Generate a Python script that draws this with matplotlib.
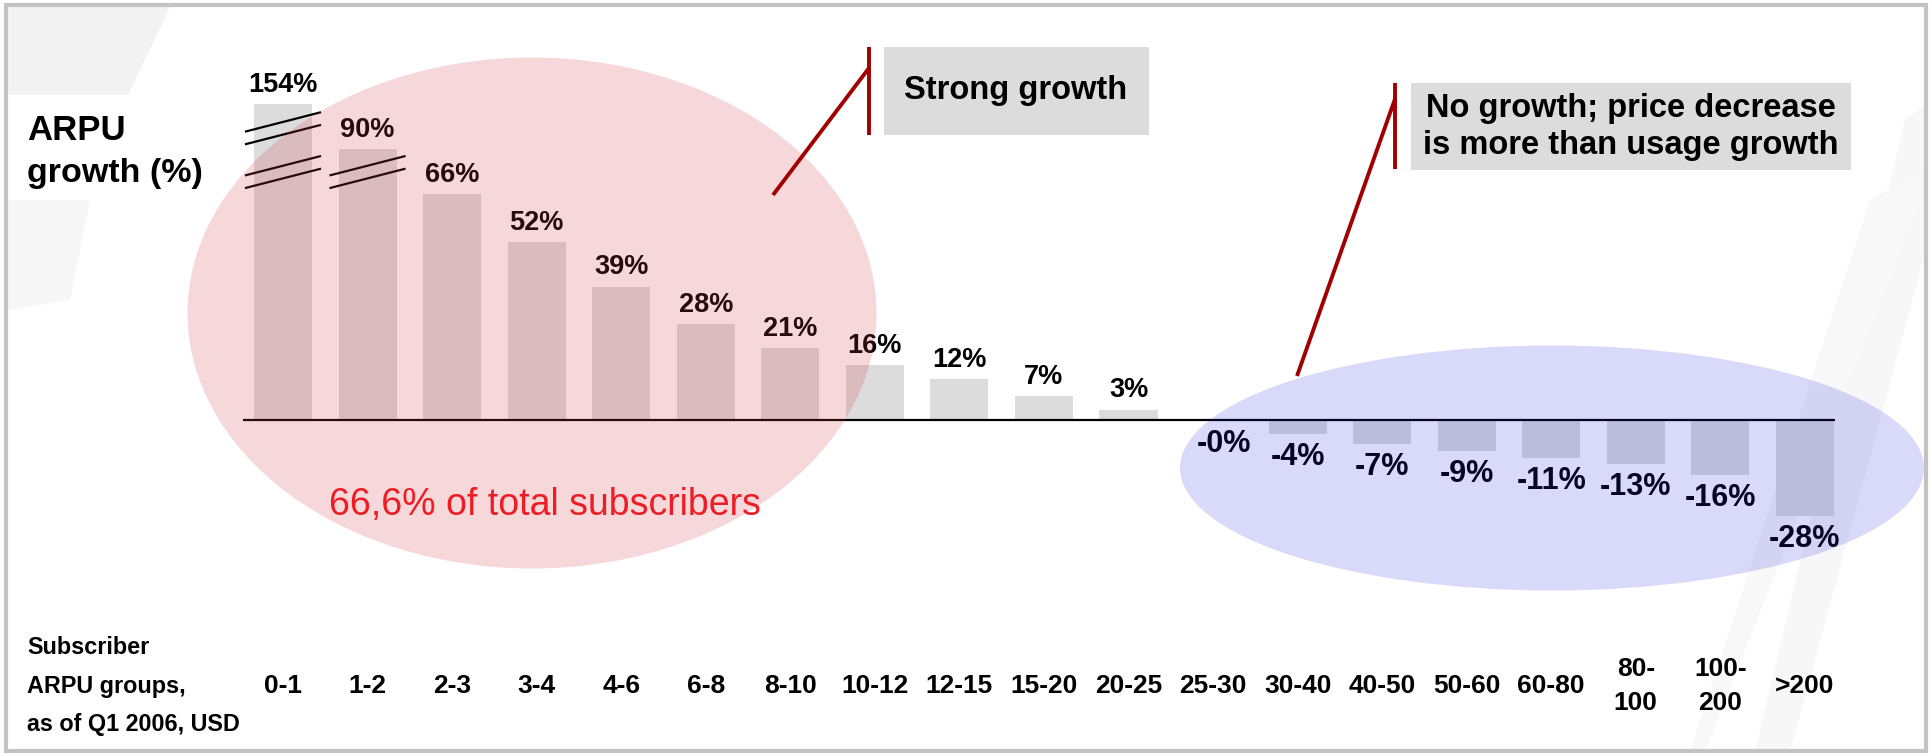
import matplotlib
matplotlib.use("Agg")
import matplotlib.pyplot as plt
from matplotlib.patches import Ellipse, Rectangle, Polygon
import matplotlib.transforms as mtransforms

plt.rcParams['font.family'] = ['Liberation Sans', 'DejaVu Sans']

# ---------------- data ----------------
categories = ['0-1', '1-2', '2-3', '3-4', '4-6', '6-8', '8-10', '10-12', '12-15',
              '15-20', '20-25', '25-30', '30-40', '40-50', '50-60', '60-80',
              '80-\n100', '100-\n200', '>200']
growth = [154, 90, 66, 52, 39, 28, 21, 16, 12, 7, 3, -0.2,
          -4, -7, -9, -11, -13, -16, -28]
# axis-break marks (which bars are broken and how many slash pairs)
break_counts = [2, 1]

# ---------------- layout constants ----------------
W, H = 1931, 756
X0_PX, STEP_PX, ZERO_PX, PX_PER_PCT = 283, 84.55, 420, 3.42
XL, XR, YLO, YHI = -0.5, 18.5, -60, 110
BREAK_FROM = 66


def shown(v):
    """Height drawn for a bar (values above the break are compressed)."""
    return v if v <= BREAK_FROM else BREAK_FROM + 2.42 * (v - BREAK_FROM) ** 0.533


fig = plt.figure(figsize=(W / 100, H / 100), dpi=100)

# background axes (pixel coordinates)
bg = fig.add_axes([0, 0, 1, 1], zorder=0)
bg.set_xlim(0, W)
bg.set_ylim(H, 0)
bg.axis('off')
bg.add_patch(Polygon([(8, 7), (170, 7), (128, 95), (8, 95)], closed=True,
                     color='#f2f2f2', lw=0))
bg.add_patch(Polygon([(8, 200), (90, 200), (70, 300), (8, 310)], closed=True,
                     color='#f7f7f7', lw=0))
bg.add_patch(Polygon([(1905, 120), (1926, 105), (1926, 250), (1790, 752), (1755, 752)],
                     closed=True, color='#f7f7f7', lw=0))
bg.add_patch(Polygon([(1870, 200), (1926, 170), (1926, 190), (1705, 752), (1690, 752)],
                     closed=True, color='#f8f8f8', lw=0))

# main data axes
left = (X0_PX + XL * STEP_PX) / W
width = (XR - XL) * STEP_PX / W
bottom = (H - (ZERO_PX - YLO * PX_PER_PCT)) / H
height = (YHI - YLO) * PX_PER_PCT / H
ax = fig.add_axes([left, bottom, width, height], zorder=1)
ax.patch.set_alpha(0)
ax.set_xlim(XL, XR)
ax.set_ylim(YLO, YHI)
ax.axis('off')

xs = list(range(len(categories)))
heights = [shown(v) for v in growth]
ax.bar(xs, heights, width=0.686, color='#dcdcdc', zorder=2)

for x, v, h in zip(xs, growth, heights):
    lab = f"{v:.0f}%"
    if v >= 0:
        ax.annotate(lab, (x, h), xytext=(0, 14), textcoords='offset points',
                    ha='center', va='center', fontsize=19.5, fontweight='bold',
                    color='black', zorder=4)
    else:
        dx = 8 if abs(v) < 0.5 else 0
        ax.annotate(lab, (x, h), xytext=(dx, -16.5), textcoords='offset points',
                    ha='center', va='center', fontsize=22, fontweight='bold',
                    color='black', zorder=4)

# break slashes
pair_centres = [72.5, 85.3]
for bi, n in enumerate(break_counts):
    for yc in pair_centres[:n]:
        for off in (1.85, -1.85):
            ax.plot([bi - 0.45, bi + 0.45], [yc + off - 2.85, yc + off + 2.85],
                    color='black', lw=1.6, zorder=5, solid_capstyle='butt')

# zero line
ax.hlines(0, -0.47, 18.36, color='black', lw=1.6, zorder=3)

# category labels
tr = mtransforms.blended_transform_factory(ax.transData, fig.transFigure)
for x, c in zip(xs, categories):
    ax.text(x, 1 - 686 / H, c, transform=tr, ha='center', va='center',
            fontsize=19, fontweight='bold', linespacing=1.5)

# overlay axes (pixel coordinates)
ov = fig.add_axes([0, 0, 1, 1], zorder=2)
ov.patch.set_alpha(0)
ov.set_xlim(0, W)
ov.set_ylim(H, 0)
ov.axis('off')

ov.add_patch(Ellipse((532, 313), 689, 511, facecolor=(210 / 255, 60 / 255, 70 / 255),
                     alpha=0.2, lw=0, zorder=1))
ov.add_patch(Ellipse((1552, 468), 744, 245, facecolor=(32 / 255, 32 / 255, 226 / 255),
                     alpha=0.17, lw=0, zorder=1))

# left titles
ov.text(27, 140, 'ARPU', fontsize=25, fontweight='bold', ha='left', va='baseline')
ov.text(27, 182, 'growth (%)', fontsize=24.5, fontweight='bold', ha='left', va='baseline')
for yy, t in zip([647, 686, 724], ['Subscriber', 'ARPU groups,', 'as of Q1 2006, USD']):
    ov.text(27, yy, t, fontsize=16.8, fontweight='bold', ha='left', va='center')

# red note
ov.text(545, 505, '66,6% of total subscribers', fontsize=27, color='#ee1c25',
        ha='center', va='center')

# callouts
red = '#a00000'
ov.add_patch(Rectangle((884, 47), 265, 88, facecolor='#dcdcdc', lw=0, zorder=3))
ov.text(1016, 91, 'Strong growth', fontsize=23.5, fontweight='bold',
        ha='center', va='center', zorder=4)
ov.plot([869, 869], [47, 135], color=red, lw=2.8, zorder=4, solid_capstyle='butt')
ov.plot([773, 869], [195, 68], color=red, lw=2.8, zorder=4, solid_capstyle='butt')

ov.add_patch(Rectangle((1411, 83), 440, 87, facecolor='#dcdcdc', lw=0, zorder=3))
ov.text(1631, 127, 'No growth; price decrease\nis more than usage growth', fontsize=23.5,
        fontweight='bold', ha='center', va='center', linespacing=1.22, zorder=4)
ov.plot([1395, 1395], [83, 169], color=red, lw=2.8, zorder=4, solid_capstyle='butt')
ov.plot([1297, 1395], [376, 99], color=red, lw=2.8, zorder=4, solid_capstyle='butt')

# frame
ov.add_patch(Rectangle((6, 5), 1920, 746, facecolor='none', edgecolor='#c3c3c3',
                       lw=3, zorder=6))

fig.savefig('out.png', dpi=100)
